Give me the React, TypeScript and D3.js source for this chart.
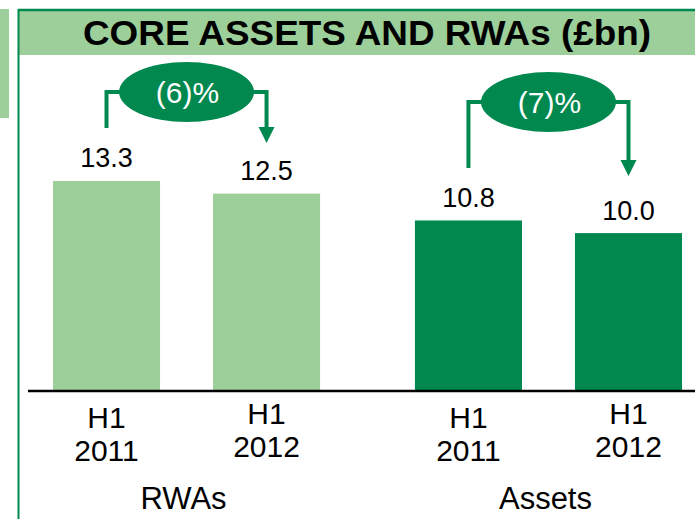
import React from "react";
import * as d3 from "d3";

const groups = ["RWAs", "Assets"];
const periods = ["H1 2011", "H1 2012"];
const rwaValues = [13.3, 12.5];
const assetValues = [10.8, 10.0];
const changeLabels = ["(6)%", "(7)%"];
const title = "CORE ASSETS AND RWAs (£bn)";

const W = 695;
const H = 519;
const LIGHT = "#9ccf9a";
const DARK = "#00884f";
const FONT = "Arial, 'Liberation Sans', Helvetica, sans-serif";

const AXIS_Y = 391;
// annotation layout (ellipse centre y, left bracket end, arrow tip)
const annotLayout = [
  { cy: 92, leftEnd: 128, tip: 143 },
  { cy: 102, leftEnd: 168, tip: 176 },
];

export default function App() {
  const seriesValues = [rwaValues, assetValues];
  const colors = [LIGHT, DARK];

  const x0 = d3.scaleBand<string>().domain(groups).range([28, 707]).paddingInner(0.262).paddingOuter(0.069);
  const x1 = d3.scaleBand<string>().domain(periods).range([0, x0.bandwidth()]).paddingInner(0.331).paddingOuter(0);
  const y = d3.scaleLinear().domain([0, 14]).range([AXIS_Y, AXIS_Y - 14 * 15.79]);

  return (
    <svg width={W} height={H} style={{ position: "absolute", left: 0, top: 0 }} fontFamily={FONT}>
      <rect x={0} y={0} width={W} height={H} fill="#fff" />
      {/* left strip */}
      <rect x={0} y={9} width={9} height={109} fill={LIGHT} />
      {/* title banner */}
      <rect x={18} y={9} width={W - 18} height={46} fill={LIGHT} />
      <line x1={18} x2={W} y1={10} y2={10} stroke={DARK} strokeWidth={2.5} />
      <line x1={18.5} x2={18.5} y1={9} y2={H} stroke={DARK} strokeWidth={2} />
      <text x={367} y={45} textAnchor="middle" fontSize={35} fontWeight="bold" fill="#000" textLength={568} lengthAdjust="spacingAndGlyphs">
        {title}
      </text>

      {groups.map((g, gi) => {
        const gx = x0(g)!;
        const vals = seriesValues[gi];
        const c1 = gx + x1(periods[0])! + x1.bandwidth() / 2;
        const c2 = gx + x1(periods[1])! + x1.bandwidth() / 2;
        const gc = gx + x0.bandwidth() / 2;
        const a = annotLayout[gi];
        const rx = 67.5;
        const ry = 30;
        return (
          <g key={g}>
            {periods.map((p, pi) => {
              const bx = gx + x1(p)!;
              const v = vals[pi];
              const cx = bx + x1.bandwidth() / 2;
              const [l1, l2] = p.split(" ");
              const off = pi === 0 ? 4 : 0;
              return (
                <g key={p}>
                  <rect x={bx} y={y(v)} width={x1.bandwidth()} height={AXIS_Y - y(v)} fill={colors[gi]} />
                  <text x={cx} y={y(v) - 13.5} textAnchor="middle" fontSize={27} fill="#000">
                    {v.toFixed(1)}
                  </text>
                  <text x={cx} y={424 + off} textAnchor="middle" fontSize={30} fill="#000">{l1}</text>
                  <text x={cx} y={457 + off} textAnchor="middle" fontSize={30} fill="#000">{l2}</text>
                </g>
              );
            })}
            <text x={gc - 3} y={509} textAnchor="middle" fontSize={31} fill="#000">{g}</text>
            {/* bracket */}
            <path d={`M${c1},${a.leftEnd} V${a.cy} H${gc}`} fill="none" stroke={DARK} strokeWidth={4} />
            <path d={`M${gc},${a.cy} H${c2} V${a.tip - 15}`} fill="none" stroke={DARK} strokeWidth={4} />
            <path d={`M${c2 - 8},${a.tip - 16} L${c2 + 8},${a.tip - 16} L${c2},${a.tip} Z`} fill={DARK} />
            <ellipse cx={gc} cy={a.cy} rx={rx} ry={ry} fill={DARK} />
            <text x={gc + 1} y={a.cy + 11} textAnchor="middle" fontSize={30} fill="#fff">
              {changeLabels[gi]}
            </text>
          </g>
        );
      })}

      <line x1={28} x2={W} y1={AXIS_Y} y2={AXIS_Y} stroke="#000" strokeWidth={2.5} />
    </svg>
  );
}
